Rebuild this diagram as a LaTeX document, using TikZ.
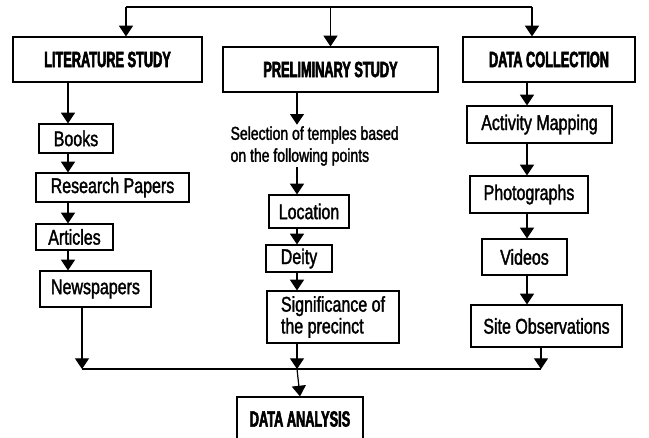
\documentclass[tikz,border=0pt]{standalone}
\usepackage{fontspec}
\setmainfont{Liberation Sans}[FakeStretch=0.75, FakeBold=1.6]
\newfontfamily\headfont{Liberation Sans Bold}[FakeStretch=0.58, FakeBold=2.5]
\usepackage{tikz}
\usetikzlibrary{arrows.meta}
\tikzset{
  headbox/.style={draw, line width=0.9pt, align=center,
                  font=\fontsize{16.5}{19}\headfont,
                  minimum height=33.75pt, inner sep=2pt},
  itembox/.style={draw, line width=0.9pt, align=center,
                  font=\fontsize{16}{16.3}\selectfont,
                  inner sep=2pt},
  seltext/.style={align=left, inner sep=1pt,
                  font=\fontsize{14}{16.5}\selectfont},
  arr/.style    ={-{Triangle[length=8pt,width=10.5pt]}, line width=0.9pt},
  joint/.style  ={line width=0.9pt},
}
\begin{document}
\begin{tikzpicture}[x=0.75pt,y=-0.75pt]
  \clip (0,0) rectangle (649,438);
  \fill[white] (0,0) rectangle (649,438);
  % top row
  \node[headbox, minimum width=141.75pt] (lit) at (107.5,59.5) {LITERATURE STUDY};
  \node[headbox, minimum width=161.25pt] (pre) at (330.5,69.5) {PRELIMINARY STUDY};
  \node[headbox, minimum width=129pt]    (dc)  at (549,59.5)   {DATA COLLECTION};
  % literature column
  \node[itembox, minimum width=55.5pt,  minimum height=21.75pt] (books) at (76,138.5)   {Books};
  \node[itembox, minimum width=114.75pt,minimum height=21.75pt] (rp)    at (112.5,187.5) {Research Papers};
  \node[itembox, minimum width=57.75pt, minimum height=19.5pt]  (art)   at (74.5,237)   {Articles};
  \node[itembox, minimum width=83.25pt, minimum height=27pt]    (news)  at (95.5,289)   {Newspapers};
  % preliminary column
  \node[seltext, anchor=west] (sel) at (229,146) {Selection of temples based\\on the following points};
  \node[itembox, minimum width=60pt,  minimum height=24.75pt] (loc)   at (309,211.5) {Location};
  \node[itembox, minimum width=49.5pt,minimum height=20.25pt] (deity) at (299,258.5) {Deity};
  \node[itembox, align=left, minimum width=99pt, minimum height=39pt] (sig) at (333,317)
       {Significance of\\the precinct};
  % data collection column
  \node[itembox, minimum width=108.75pt,minimum height=27.75pt] (am)  at (539.5,124.5) {Activity Mapping};
  \node[itembox, minimum width=88.5pt,  minimum height=27.75pt] (ph)  at (529,194.5)   {Photographs};
  \node[itembox, minimum width=63.75pt, minimum height=27pt]    (vid) at (524.5,257)   {Videos};
  \node[itembox, minimum width=113.25pt,minimum height=31.5pt]  (so)  at (546.5,326)   {Site Observations};
  % result
  \node[headbox, minimum width=94.5pt, minimum height=33pt] (da) at (300,419) {DATA ANALYSIS};

  % column lines
  \coordinate (lc) at (68,0);
  \coordinate (mc) at (297,0);
  \coordinate (rc) at (527,0);
  \coordinate (tl) at (126,7);
  \coordinate (tr) at (532,7);
  \coordinate (bl) at (82,369);
  \coordinate (bm) at (297,369);
  \coordinate (br) at (541,369);

  \draw[joint] (tl) -- (tr);
  \draw[arr] (tl) -- (tl |- lit.north);
  \draw[arr] (pre.north |- tl) -- (pre.north);
  \draw[arr] (tr) -- (tr |- dc.north);

  \draw[arr] (lc |- lit.south)   -- (lc |- books.north);
  \draw[arr] (lc |- books.south) -- (lc |- rp.north);
  \draw[arr] (lc |- rp.south)    -- (lc |- art.north);
  \draw[arr] (lc |- art.south)   -- (lc |- news.north);

  \draw[arr] (mc |- pre.south)   -- (mc |- sel.north);
  \draw[arr] (mc |- sel.south)   -- (mc |- loc.north);
  \draw[arr] (mc |- loc.south)   -- (mc |- deity.north);
  \draw[arr] (mc |- deity.south) -- (mc |- sig.north);

  \draw[arr] (rc |- dc.south)  -- (rc |- am.north);
  \draw[arr] (rc |- am.south)  -- (rc |- ph.north);
  \draw[arr] (rc |- ph.south)  -- (rc |- vid.north);
  \draw[arr] (rc |- vid.south) -- (rc |- so.north);

  \draw[joint] (bl) -- (br);
  \draw[arr] (bl |- news.south) -- (bl);
  \draw[arr] (bm |- sig.south)  -- (bm);
  \draw[arr] (br |- so.south)   -- (br);
  \draw[arr] (bm) -- (da.north);
\end{tikzpicture}
\end{document}
